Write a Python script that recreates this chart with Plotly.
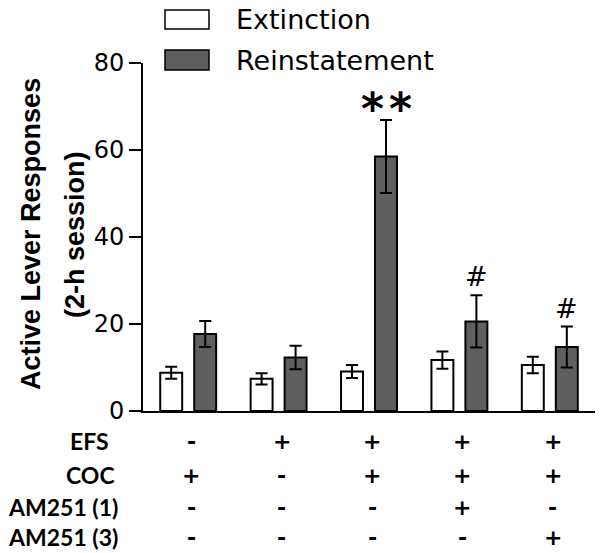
import plotly.graph_objects as go

# ---- data ----
groups = [0, 1, 2, 3, 4]
extinction = [8.8, 7.4, 9.1, 11.7, 10.6]
extinction_err = [1.4, 1.3, 1.5, 2.0, 1.9]
reinstatement = [17.7, 12.3, 58.5, 20.6, 14.7]
reinstatement_err = [3.0, 2.7, 8.4, 6.0, 4.7]
y_ticks = [0, 20, 40, 60, 80]

row_labels = ["EFS", "COC", "AM251 (1)", "AM251 (3)"]
row_signs = [
    ["-", "+", "+", "+", "+"],
    ["+", "-", "+", "+", "+"],
    ["-", "-", "-", "+", "-"],
    ["-", "-", "-", "-", "+"],
]
# significance marks on reinstatement bars
sig_marks = ["", "", "**", "#", "#"]
y_title_lines = ["Active Lever Responses", "(2-h session)"]

# ---- layout geometry ----
W, H = 602, 553
ML, MR, MT, MB = 143, 7, 63, 142
BARGAP = 0.248
BARGROUPGAP = 0.354
slot = (1 - BARGAP) / 2
plot_h = H - MT - MB
plot_w = W - ML - MR


def py(px):  # pixel row -> paper y
    return (H - MB - px) / plot_h


def pxx(px):  # pixel column -> paper x
    return (px - ML) / plot_w


fig = go.Figure()
fig.add_trace(go.Bar(
    x=groups, y=extinction, name="Extinction",
    marker=dict(color="white", line=dict(color="black", width=2)),
    error_y=dict(type="data", array=extinction_err, color="black", thickness=2, width=6),
    showlegend=False,
))
fig.add_trace(go.Bar(
    x=groups, y=reinstatement, name="Reinstatement",
    marker=dict(color="#5f5f5f", line=dict(color="black", width=2)),
    error_y=dict(type="data", array=reinstatement_err, color="black", thickness=2, width=6),
    showlegend=False,
))

annotations = []
# significance marks
for i, m in enumerate(sig_marks):
    if not m:
        continue
    top = reinstatement[i] + reinstatement_err[i]
    xb = groups[i] + slot / 2
    if m == "**":
        for dx in (-14, 14):
            annotations.append(dict(
                x=xb, y=top, xref="x", yref="y", text="<b>*</b>", showarrow=False,
                xanchor="center", yanchor="bottom", xshift=dx, yshift=-16,
                font=dict(family="DejaVu Sans", size=44, color="black"),
            ))
    else:
        annotations.append(dict(
            x=xb, y=top, xref="x", yref="y", text=m, showarrow=False,
            xanchor="center", yanchor="bottom", yshift=1,
            font=dict(family="DejaVu Sans", size=27, color="black"),
        ))

# condition table
row_px = [441, 475, 507, 537]
label_px = [68, 64, 6, 6]
for r, lab in enumerate(row_labels):
    annotations.append(dict(
        x=pxx(label_px[r]), y=py(row_px[r]), xref="paper", yref="paper",
        text="<b>%s</b>" % lab, showarrow=False, xanchor="left", yanchor="middle",
        font=dict(family="Lato", size=23, color="black"),
    ))
    for i, s in enumerate(row_signs[r]):
        annotations.append(dict(
            x=groups[i], y=py(row_px[r]), xref="x", yref="paper",
            text="<b>%s</b>" % s, showarrow=False, xanchor="center", yanchor="middle",
            xshift=3, font=dict(family="DejaVu Sans", size=22, color="black"),
        ))

# y-axis title (two rotated lines)
for line, xpx, ypx in zip(y_title_lines, [31, 75], [234, 235]):
    annotations.append(dict(
        x=pxx(xpx), y=py(ypx), xref="paper", yref="paper",
        text="<b>%s</b>" % line,
        showarrow=False, textangle=-90, xanchor="center", yanchor="middle",
        font=dict(family="Liberation Sans, Arial", size=27, color="black"),
    ))

# manual legend
legend_items = [("Extinction", "white", 10, 29, 20), ("Reinstatement", "#5f5f5f", 50, 70, 60)]
shapes = []
for name, col, y0, y1, yc in legend_items:
    shapes.append(dict(
        type="rect", xref="paper", yref="paper",
        x0=pxx(165), x1=pxx(209), y0=py(y1), y1=py(y0),
        fillcolor=col, line=dict(color="black", width=1.5),
    ))
    annotations.append(dict(
        x=pxx(234), y=py(yc), xref="paper", yref="paper", text=name,
        showarrow=False, xanchor="left", yanchor="middle",
        font=dict(family="DejaVu Sans", size=27, color="black"),
    ))

fig.update_layout(
    width=W, height=H,
    margin=dict(l=ML, r=MR, t=MT, b=MB, pad=0),
    paper_bgcolor="white", plot_bgcolor="white",
    barmode="group", bargap=BARGAP, bargroupgap=BARGROUPGAP,
    annotations=annotations, shapes=shapes,
    showlegend=False,
)
fig.update_xaxes(
    range=[-0.5, 4.5], showticklabels=False, ticks="", showgrid=False,
    zeroline=False, showline=True, linecolor="black", linewidth=2,
)
fig.update_yaxes(
    range=[0, 80], tickvals=y_ticks, ticks="outside", ticklen=12, tickwidth=2,
    tickcolor="black", showgrid=False, zeroline=False, showline=True,
    linecolor="black", linewidth=2,
    tickfont=dict(family="DejaVu Sans", size=24, color="black"),
)

fig.write_html(
    "out.html",
    config={"displayModeBar": False},
    post_script="document.body.style.margin='0';document.body.style.overflow='hidden';",
)
